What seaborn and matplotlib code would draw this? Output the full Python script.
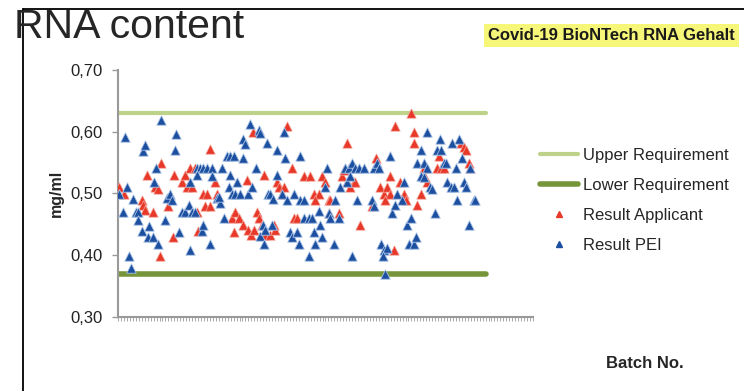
import numpy as np
import pandas as pd
import seaborn as sns
import matplotlib.pyplot as plt
from matplotlib.lines import Line2D
from matplotlib.ticker import FuncFormatter, MultipleLocator

# requirement limits (mg/ml) over the batch range
req_batches = [0, 124]
upper_req = [0.63, 0.63]
lower_req = [0.37, 0.37]

# Result Applicant (red) - batch no., mg/ml
app_batch = [0.5, 2, 8, 8.3, 9.1, 9.9, 11.9, 12.5, 13.6, 14, 14.4, 17, 18.4, 18.9, 21.5,
             22.6, 23.2, 24.3, 24.9, 26, 26.6, 27.1, 28.8, 30, 29.4, 31.1, 31.1, 32.8, 33.3,
             38.4, 39.5, 39, 40.7, 42.3, 43.5, 44, 44.8, 45.9, 45.5, 46.8, 47.4, 48.5, 49.7,
             51.4, 52.5, 53, 49.1, 53.8, 54.2, 55.3, 55.9, 57, 58.7, 59.3, 60.4, 62.6, 64.9,
             66, 67.7, 66.6, 68.8, 70, 71.1, 71.6, 74.5, 71.1, 75.6, 76.2, 77.3, 78.4, 77.1,
             79.5, 80.1, 81.8, 85.7, 86.9, 88.5, 89.7, 90.8, 91.9, 90.2, 91.7, 93, 93.6, 95.3,
             96.4, 97.3, 98.7, 99.8, 100, 100.9, 102.1, 103.2, 103.7, 104.3, 107.7, 108.8,
             109.9, 108.2, 115.6, 116.7, 117.3, 118.4, 118.9]
app_value = [0.511, 0.50, 0.489, 0.481, 0.473, 0.53, 0.47, 0.511, 0.508, 0.399, 0.549, 0.48,
             0.43, 0.53, 0.519, 0.53, 0.511, 0.541, 0.511, 0.541, 0.47, 0.439, 0.50, 0.50,
             0.48, 0.48, 0.572, 0.519, 0.50, 0.46, 0.47, 0.438, 0.46, 0.449, 0.522, 0.441,
             0.433, 0.441, 0.60, 0.47, 0.46, 0.449, 0.432, 0.432, 0.449, 0.441, 0.53, 0.519,
             0.511, 0.50, 0.511, 0.61, 0.541, 0.46, 0.46, 0.528, 0.528, 0.50, 0.50, 0.49,
             0.528, 0.519, 0.49, 0.49, 0.469, 0.469, 0.528, 0.538, 0.519, 0.511, 0.581, 0.519,
             0.519, 0.449, 0.48, 0.558, 0.511, 0.50, 0.511, 0.50, 0.49, 0.528, 0.408, 0.61,
             0.519, 0.50, 0.49, 0.63, 0.60, 0.581, 0.481, 0.50, 0.541, 0.527, 0.519, 0.541,
             0.541, 0.541, 0.56, 0.581, 0.576, 0.57, 0.549, 0.541]

# Result PEI (blue) - batch no., mg/ml
pei_batch = [0.5, 2.4, 2.9, 1.8, 3.6, 4.3, 5, 6.1, 6.9, 6.8, 8, 8.6, 9.1, 10.2, 10.6, 11.9,
             12.3, 12.8, 13.6, 14.5, 15.9, 16.4, 17.6, 18.1, 19.3, 19.5, 20.7, 21.5, 22.6,
             23.8, 24.9, 26, 24.3, 24.3, 26.6, 27.7, 28.8, 30, 26.6, 28.3, 28.8, 31.1, 31.6,
             31.6, 33.3, 34.5, 34.2, 35, 35.6, 36.7, 37.8, 37.6, 38.4, 39.5, 41, 37.8, 39.2,
             40.1, 42.3, 42.9, 42.3, 44, 44.6, 45.2, 46.6, 47.4, 48, 48, 48.9, 49.7, 49.1,
             50.2, 50.6, 51.4, 52.3, 53.6, 53.6, 52, 55.9, 56.4, 61.5, 55.3, 57, 59.3, 61.5,
             62.6, 58.1, 58.7, 60.4, 61, 62.6, 64.3, 65.5, 64.3, 66, 66.6, 67.7, 68.3, 68.8,
             70, 70.5, 71.1, 71.6, 72.8, 73.3, 74.5, 75, 76.7, 77.8, 79, 80.1, 81.2, 82.9,
             77.3, 78.4, 79, 80.7, 86.3, 87.4, 88, 85.7, 86.3, 88.8, 89.7, 90.8, 89.4, 90,
             91.7, 92.3, 93.6, 94.2, 95.9, 96.4, 97.5, 98.1, 98.7, 99.8, 100.4, 100.9, 102.1,
             103.2, 104.3, 102.1, 103.2, 104.1, 105.4, 106, 107.1, 107.7, 108.8, 108.6, 109.9,
             110.5, 111.1, 112.2, 113.3, 113.9, 114.4, 112.8, 115, 116.1, 116.7, 117.3, 118.4,
             118.9, 120.1, 120.6]
pei_value = [0.50, 0.591, 0.511, 0.47, 0.398, 0.379, 0.491, 0.47, 0.47, 0.457, 0.439, 0.569,
             0.578, 0.429, 0.448, 0.43, 0.519, 0.541, 0.418, 0.619, 0.457, 0.492, 0.50, 0.489,
             0.571, 0.597, 0.438, 0.47, 0.47, 0.481, 0.47, 0.47, 0.408, 0.519, 0.541, 0.541,
             0.541, 0.541, 0.53, 0.439, 0.449, 0.419, 0.541, 0.528, 0.492, 0.484, 0.495, 0.541,
             0.46, 0.56, 0.56, 0.511, 0.50, 0.50, 0.50, 0.53, 0.56, 0.519, 0.589, 0.58, 0.557,
             0.50, 0.612, 0.511, 0.541, 0.603, 0.598, 0.431, 0.449, 0.441, 0.418, 0.581, 0.50,
             0.50, 0.491, 0.57, 0.53, 0.449, 0.60, 0.558, 0.56, 0.50, 0.49, 0.50, 0.49, 0.49,
             0.438, 0.43, 0.438, 0.419, 0.46, 0.46, 0.46, 0.398, 0.438, 0.419, 0.471, 0.449,
             0.43, 0.511, 0.541, 0.469, 0.46, 0.419, 0.49, 0.46, 0.511, 0.541, 0.541, 0.549,
             0.541, 0.541, 0.541, 0.519, 0.528, 0.399, 0.49, 0.541, 0.549, 0.541, 0.49, 0.479,
             0.419, 0.408, 0.411, 0.399, 0.37, 0.56, 0.468, 0.481, 0.50, 0.49, 0.519, 0.449,
             0.419, 0.46, 0.419, 0.43, 0.549, 0.57, 0.549, 0.541, 0.528, 0.527, 0.60, 0.511,
             0.508, 0.469, 0.57, 0.57, 0.589, 0.549, 0.549, 0.519, 0.511, 0.511, 0.541, 0.49,
             0.581, 0.589, 0.558, 0.519, 0.511, 0.449, 0.541, 0.49, 0.49]

sns.set_style("white")
plt.rcParams['font.family'] = ['Liberation Sans', 'DejaVu Sans']

fig = plt.figure(figsize=(7.44, 3.91), dpi=100)
ax = fig.add_axes([118 / 744, 1 - 317 / 391, (533 - 118) / 744, (317 - 70) / 391])

upper_col = '#bfd28a'
lower_col = '#76953a'
red = '#e8382a'
blue = '#1c4f9f'

sns.lineplot(x=req_batches, y=upper_req, color=upper_col, lw=3, ax=ax, label='Upper Requirement')
sns.lineplot(x=req_batches, y=lower_req, color=lower_col, lw=4, ax=ax, label='Lower Requirement')

app = pd.DataFrame({'batch': app_batch, 'value': app_value})
pei = pd.DataFrame({'batch': pei_batch, 'value': pei_value})
sns.scatterplot(data=app, x='batch', y='value', marker='^', s=46, color=red,
                edgecolor='#f4a89a', linewidth=0.5, ax=ax, label='Result Applicant', zorder=3)
sns.scatterplot(data=pei, x='batch', y='value', marker='^', s=46, color=blue,
                edgecolor='#a9c2e6', linewidth=0.6, ax=ax, label='Result PEI', zorder=4)

ax.set_xlim(0, 140)
ax.set_ylim(0.30, 0.70)
ax.yaxis.set_major_locator(MultipleLocator(0.1))
ax.yaxis.set_major_formatter(FuncFormatter(lambda v, p: f"{v:.2f}".replace('.', ',')))
ax.xaxis.set_major_locator(MultipleLocator(1))
ax.set_xticklabels([])
ax.tick_params(axis='x', length=3, width=0.6, color='#999999', direction='out', bottom=True)
ax.tick_params(axis='y', length=4, width=1, color='#999999', labelsize=12,
               labelcolor='#222222', left=True, pad=7)
for side in ['top', 'right']:
    ax.spines[side].set_visible(False)
for side in ['left', 'bottom']:
    ax.spines[side].set_color('#999999')
    ax.spines[side].set_linewidth(1.5)
ax.set_xlabel('')
ax.set_ylabel('mg/ml', fontsize=11.5, fontweight='bold', labelpad=5)

ax.legend_.remove()
handles = [Line2D([], [], color=upper_col, lw=3),
           Line2D([], [], color=lower_col, lw=4),
           Line2D([], [], marker='^', ls='', color=red, markersize=5),
           Line2D([], [], marker='^', ls='', color=blue, markersize=5)]
labels = ['Upper Requirement', 'Lower Requirement', 'Result Applicant', 'Result PEI']
fig.legend(handles, labels, loc='upper left', bbox_to_anchor=(540 / 744, 1 - 148 / 391),
           frameon=False, fontsize=12, handlelength=2.3, handletextpad=0.3,
           labelspacing=0.9, borderpad=0, borderaxespad=0)

fig.text(645 / 744, 1 - 368 / 391, 'Batch No.', fontsize=12, fontweight='bold',
         ha='center', va='baseline')

# slide title and header tag
fig.text(14 / 744, 1 - 38 / 391, 'RNA content', fontsize=29.5, ha='left', va='baseline')
fig.text(488 / 744, 1 - 40 / 391, 'Covid-19 BioNTech RNA Gehalt', fontsize=12, fontweight='bold',
         ha='left', va='baseline', color='#1a1a1a',
         bbox=dict(facecolor='#f6f678', edgecolor='none', pad=3))

# slide frame
fig.add_artist(Line2D([23 / 744, 23 / 744], [0, 1 - 9 / 391], color='black', lw=1.3))
fig.add_artist(Line2D([23 / 744, 1], [1 - 9 / 391, 1 - 9 / 391], color='black', lw=1.3))

fig.savefig('out.png', dpi=100)
